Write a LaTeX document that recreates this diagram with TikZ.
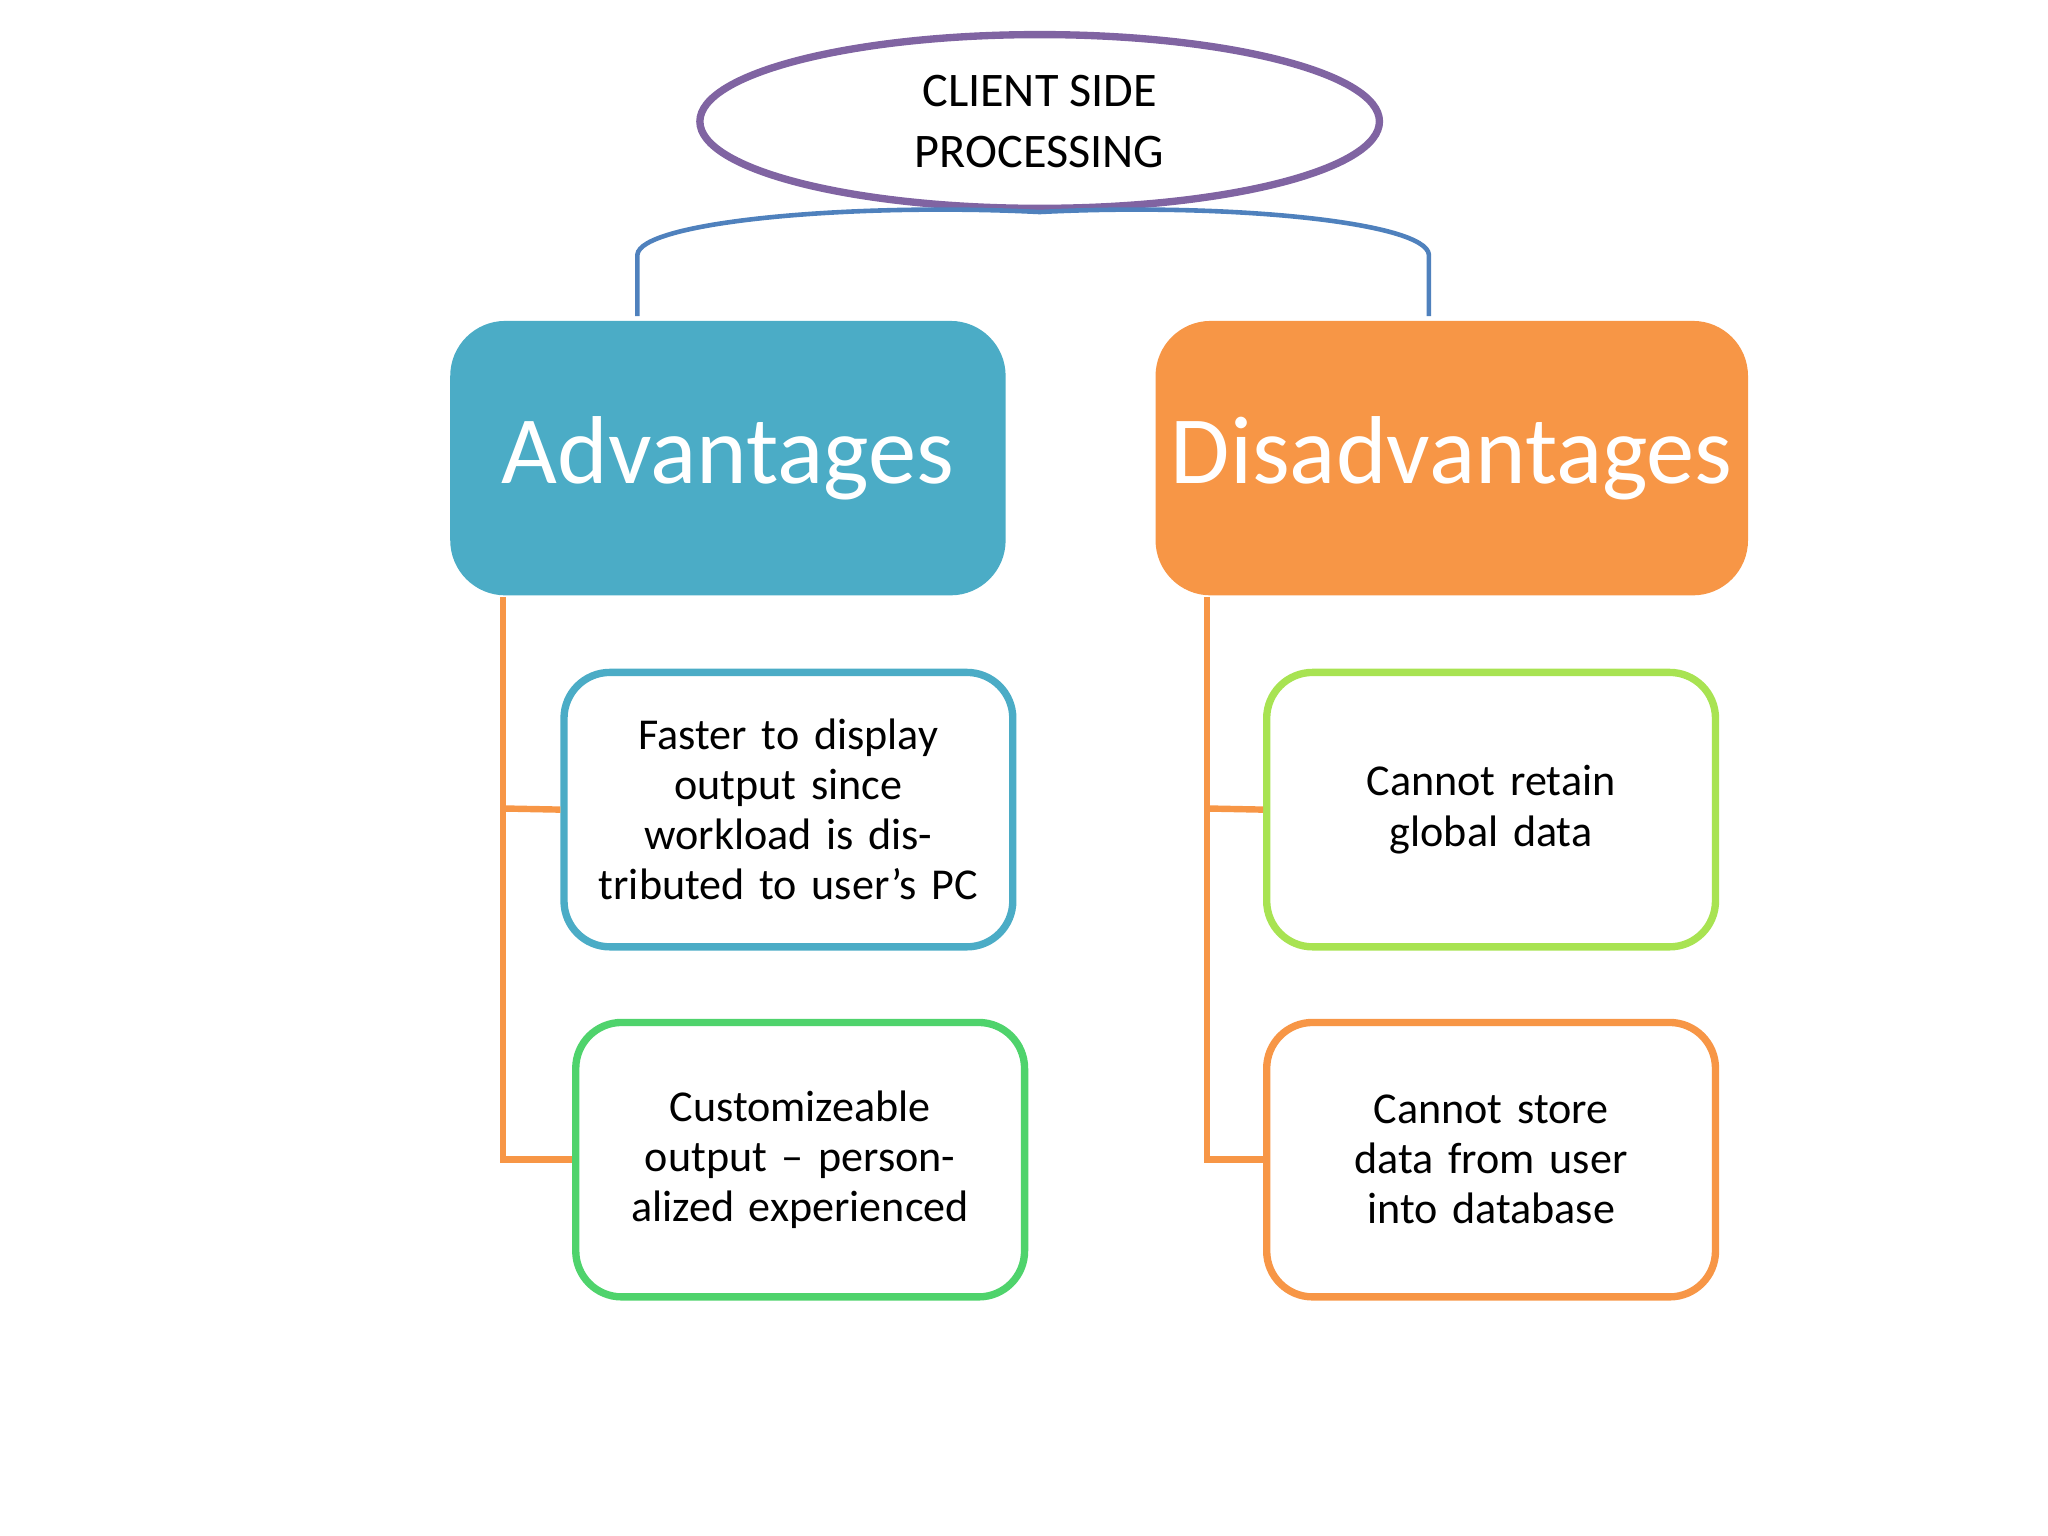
\documentclass[tikz,border=0pt]{standalone}
\usepackage{fontspec}
\setmainfont{Carlito}
\usetikzlibrary{
    positioning,             % For relative placement of nodes
    shapes.geometric         % For the ellipse
}
\definecolor{advblue}{HTML}{4BACC6}
\definecolor{disorange}{HTML}{F79646}
\definecolor{itemgreen}{HTML}{4FD36C}
\definecolor{itemlime}{HTML}{A8E352}
\definecolor{topline}{HTML}{4F81BD}
\definecolor{toppurple}{HTML}{8064A2}

\begin{document}
\begin{tikzpicture}[
    x=0.01cm, y=-0.01cm,
    head_style/.style={rounded corners=12pt, text=white, font=\fontsize{21}{24}\selectfont,
        minimum width=4.25cm, minimum height=2.1cm, anchor=north west},
    item_style/.style={draw, line width=1.6pt, rounded corners=10pt, fill=white, align=center,
        font=\fontsize{9.6}{10.9}\selectfont, minimum width=3.4cm, minimum height=2.1cm,
        text width=3.2cm, anchor=north west},
    branch_style/.style={disorange, line width=1.4pt}
]
    % Frame of the picture
    \useasboundingbox (0,0) rectangle (1568,1176);

    % Top ellipse
    \node[ellipse, draw=toppurple, line width=1.6pt, minimum width=5.2cm, minimum height=1.24cm,
        align=center, font=\fontsize{10.5}{13.2}\selectfont] (top) at (796,93) {CLIENT SIDE\\PROCESSING};

    % Headings
    \node[head_style, fill=advblue] (adv) at (344,245) {Advantages};
    \node[head_style, fill=disorange] (dis) at (884,245) {Disadvantages};

    % Connector from the ellipse to the headings
    \coordinate (advtop) at (488,242);
    \coordinate (distop) at (1094,242);
    \draw[topline, line width=1pt] (advtop) -- (488,195) .. controls (490,170) and (650,155) .. (top.south)
        .. controls (940,155) and (1092,170) .. (1094,195) -- (distop);

    % Items
    \node[item_style, draw=advblue] (fast) at (429,512) {Faster to display output since workload is distributed to user’s PC};
    \node[item_style, draw=itemgreen] (custom) at (438,780) {Customizeable output – personalized experienced};
    \node[item_style, draw=itemlime] (global) at (967,512) {Cannot retain global data};
    \node[item_style, draw=disorange] (store) at (967,780) {Cannot store data from user into database};

    % Branches
    \coordinate (advdown) at (385,457);
    \coordinate (disdown) at (924,457);
    \draw[branch_style] (advdown) |- (custom.west);
    \draw[branch_style] (385,619) -- (fast.west);
    \draw[branch_style] (disdown) |- (store.west);
    \draw[branch_style] (924,619) -- (global.west);
\end{tikzpicture}
\end{document}
